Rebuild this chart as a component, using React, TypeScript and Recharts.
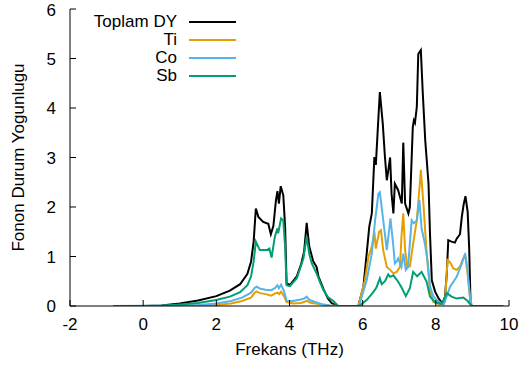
import React from 'react';
import { LineChart, Line, XAxis, YAxis, Legend } from 'recharts';

// ---- data (frequency in THz, phonon DOS) ----
const totalFreq = [-0.82, 0, 0.5, 1.0, 1.5, 2.0, 2.37, 2.65, 2.85, 2.95, 3.02, 3.08, 3.15, 3.28, 3.42, 3.49, 3.56, 3.63, 3.67, 3.71, 3.76, 3.83, 3.88, 3.92, 4.01, 4.2, 4.32, 4.4, 4.47, 4.54, 4.65, 4.74, 4.79, 4.93, 5.05, 5.15, 5.3, 5.88, 6.02, 6.11, 6.18, 6.25, 6.32, 6.36, 6.43, 6.47, 6.55, 6.61, 6.66, 6.7, 6.75, 6.79, 6.84, 6.88, 6.97, 7.07, 7.11, 7.16, 7.25, 7.29, 7.37, 7.4, 7.43, 7.48, 7.52, 7.59, 7.64, 7.71, 7.8, 7.84, 7.89, 7.98, 8.07, 8.16, 8.21, 8.25, 8.3, 8.34, 8.43, 8.52, 8.57, 8.66, 8.71, 8.76, 8.81, 8.87, 8.91, 8.95, 8.98, 9.84];
const totalDY = [0, 0, 0.01, 0.05, 0.11, 0.2, 0.31, 0.44, 0.65, 0.9, 1.3, 1.97, 1.8, 1.7, 1.66, 1.45, 1.62, 2.14, 2.32, 2.07, 2.42, 2.24, 1.6, 0.46, 0.42, 0.6, 0.85, 1.1, 1.68, 1.2, 0.9, 0.79, 0.6, 0.34, 0.15, 0.06, 0, 0, 0.39, 1.06, 1.6, 1.87, 3.01, 2.85, 3.8, 4.32, 3.68, 3.0, 2.54, 2.74, 3.0, 2.27, 1.87, 2.47, 2.34, 2.07, 3.3, 2.07, 1.87, 2.0, 3.61, 3.75, 3.7, 4.02, 5.09, 5.17, 4.35, 3.35, 2.47, 1.47, 0.52, 0.29, 0.16, 0.07, 0.05, 0.19, 0.66, 1.33, 1.3, 1.28, 1.36, 1.45, 1.8, 2.05, 2.22, 1.9, 1.2, 0.05, 0, 0];

const tiFreq = [-0.82, 1.0, 1.5, 2.0, 2.4, 2.7, 2.95, 3.05, 3.1, 3.2, 3.35, 3.5, 3.6, 3.67, 3.72, 3.77, 3.85, 3.92, 4.1, 4.3, 4.4, 4.47, 4.55, 4.7, 4.9, 5.1, 5.3, 5.88, 6.06, 6.16, 6.25, 6.32, 6.36, 6.45, 6.5, 6.56, 6.66, 6.75, 6.84, 6.93, 7.02, 7.06, 7.11, 7.16, 7.22, 7.29, 7.38, 7.48, 7.57, 7.59, 7.66, 7.75, 7.84, 7.93, 8.1, 8.25, 8.32, 8.39, 8.48, 8.57, 8.66, 8.75, 8.8, 8.86, 8.93, 8.98, 9.84];
const tiDY = [0, 0, 0.01, 0.02, 0.05, 0.1, 0.17, 0.27, 0.29, 0.26, 0.24, 0.21, 0.25, 0.27, 0.24, 0.29, 0.2, 0.08, 0.05, 0.06, 0.08, 0.11, 0.07, 0.05, 0.03, 0.01, 0, 0, 0.52, 1.0, 1.2, 1.5, 1.16, 1.5, 1.53, 1.13, 0.79, 0.73, 0.66, 0.69, 0.79, 1.4, 1.87, 1.13, 0.79, 0.8, 1.26, 1.73, 2.54, 2.75, 2.07, 1.06, 0.32, 0.08, 0.03, 0.08, 0.93, 0.88, 0.76, 0.73, 0.8, 0.96, 1.03, 0.7, 0.19, 0, 0];

const coFreq = [-0.82, 1.0, 1.5, 2.0, 2.4, 2.7, 2.95, 3.05, 3.1, 3.2, 3.35, 3.5, 3.6, 3.67, 3.71, 3.77, 3.85, 3.92, 4.1, 4.3, 4.4, 4.47, 4.55, 4.7, 4.9, 5.1, 5.3, 5.9, 6.11, 6.25, 6.34, 6.43, 6.47, 6.54, 6.6, 6.66, 6.76, 6.84, 6.88, 6.93, 6.97, 7.06, 7.11, 7.18, 7.24, 7.34, 7.4, 7.48, 7.55, 7.61, 7.7, 7.77, 7.84, 7.93, 8.02, 8.21, 8.3, 8.39, 8.57, 8.71, 8.8, 8.87, 8.93, 8.98, 9.84];
const coDY = [0, 0.01, 0.02, 0.05, 0.1, 0.17, 0.27, 0.37, 0.39, 0.35, 0.33, 0.32, 0.36, 0.42, 0.36, 0.43, 0.3, 0.1, 0.1, 0.13, 0.15, 0.19, 0.12, 0.08, 0.03, 0.01, 0, 0, 0.52, 1.06, 1.73, 2.27, 2.3, 1.87, 1.5, 1.13, 1.77, 1.2, 0.86, 0.9, 0.96, 0.79, 1.06, 0.73, 0.79, 1.73, 1.67, 1.73, 2.14, 1.57, 1.26, 0.93, 0.39, 0.2, 0.12, 0.03, 0.2, 0.39, 0.59, 0.86, 1.06, 0.73, 0.2, 0, 0];

const sbFreq = [-0.82, 0.5, 1.0, 1.5, 2.0, 2.37, 2.65, 2.85, 2.95, 3.02, 3.08, 3.19, 3.38, 3.45, 3.51, 3.6, 3.67, 3.69, 3.77, 3.83, 3.88, 3.92, 4.01, 4.2, 4.38, 4.47, 4.54, 4.61, 4.74, 4.85, 4.93, 5.05, 5.2, 5.33, 5.9, 6.11, 6.29, 6.38, 6.47, 6.52, 6.61, 6.7, 6.75, 6.84, 6.97, 7.06, 7.18, 7.29, 7.38, 7.49, 7.61, 7.75, 7.84, 7.98, 8.16, 8.3, 8.43, 8.57, 8.75, 8.87, 8.98, 9.84];
const sbDY = [0, 0.005, 0.03, 0.06, 0.12, 0.19, 0.28, 0.42, 0.6, 0.9, 1.3, 1.13, 1.13, 1.16, 0.98, 1.4, 1.57, 1.47, 1.77, 1.73, 1.2, 0.42, 0.4, 0.56, 0.96, 1.4, 1.05, 0.86, 0.66, 0.45, 0.32, 0.18, 0.1, 0, 0, 0.12, 0.28, 0.38, 0.56, 0.44, 0.5, 0.64, 0.59, 0.62, 0.49, 0.38, 0.2, 0.36, 0.69, 0.6, 0.69, 0.49, 0.19, 0.08, 0.04, 0.26, 0.19, 0.15, 0.17, 0.1, 0, 0];

const seriesNames = ['Toplam DY', 'Ti', 'Co', 'Sb'];
const seriesColors = ['#000000', '#E69F00', '#56B4E9', '#009E73'];

const xTicks = [-2, 0, 2, 4, 6, 8, 10];
const yTicks = [0, 1, 2, 3, 4, 5, 6];

const xLabel = 'Frekans (THz)';
const yLabel = 'Fonon Durum Yogunlugu';

const toRows = (f: number[], v: number[]) => f.map((x, i) => ({ f: x, v: v[i] }));

const seriesData = [
  toRows(totalFreq, totalDY),
  toRows(tiFreq, tiDY),
  toRows(coFreq, coDY),
  toRows(sbFreq, sbDY),
];

const FONT = '"Liberation Sans", Arial, Helvetica, sans-serif';
const FS = 17;

const renderLegend = () => (
  <div style={{ position: 'relative', width: 240, height: 90 }}>
    {seriesNames.map((name, i) => {
      const cy = 22.3 + i * 17.9;
      return (
        <React.Fragment key={name}>
          <div
            style={{
              position: 'absolute',
              right: 240 - 177,
              top: cy - 10,
              height: 20,
              lineHeight: '20px',
              fontSize: FS,
              fontFamily: FONT,
              whiteSpace: 'nowrap',
              color: '#000',
            }}
          >
            {name}
          </div>
          <div
            style={{
              position: 'absolute',
              left: 189,
              width: 47,
              top: cy - 1,
              height: 2,
              background: seriesColors[i],
            }}
          />
        </React.Fragment>
      );
    })}
  </div>
);

const renderYLabel = () => (
  <text
    transform="translate(18,157.5) rotate(-90)"
    textAnchor="middle"
    dominantBaseline="central"
    fontSize={FS}
    fontFamily={FONT}
    fill="#000"
  >
    {yLabel}
  </text>
);

export default function App() {
  const tickStyle = { fill: '#000', fontSize: FS, fontFamily: FONT };
  return (
    <div style={{ position: 'absolute', left: 0, top: 0, width: 521, height: 371, background: '#fff' }}>
      <LineChart width={521} height={371} margin={{ top: 9, right: 12, bottom: 0, left: 0 }}>
        <XAxis
          xAxisId="b"
          type="number"
          dataKey="f"
          domain={[-2, 10]}
          ticks={xTicks}
          height={65}
          tickSize={-6}
          tickMargin={18}
          stroke="#000"
          tick={tickStyle}
          allowDataOverflow
          label={{ value: xLabel, position: 'insideBottom', offset: 16, fill: '#000', fontSize: FS, fontFamily: FONT }}
        />
        <XAxis
          xAxisId="t"
          orientation="top"
          type="number"
          dataKey="f"
          domain={[-2, 10]}
          ticks={xTicks}
          height={0}
          tickSize={-6}
          tick={false}
          stroke="#000"
          allowDataOverflow
        />
        <YAxis
          yAxisId="l"
          type="number"
          domain={[0, 6]}
          ticks={yTicks}
          width={70}
          tickSize={-6}
          tickMargin={20}
          stroke="#000"
          tick={tickStyle}
          allowDataOverflow
          label={renderYLabel}
        />
        <YAxis
          yAxisId="r"
          orientation="right"
          type="number"
          domain={[0, 6]}
          ticks={yTicks}
          width={0}
          tickSize={-6}
          tick={false}
          stroke="#000"
          allowDataOverflow
        />
        {seriesData.map((d, i) => (
          <Line
            key={seriesNames[i]}
            data={d}
            dataKey="v"
            name={seriesNames[i]}
            xAxisId="b"
            yAxisId="l"
            type="linear"
            stroke={seriesColors[i]}
            strokeWidth={2}
            dot={false}
            activeDot={false}
            isAnimationActive={false}
          />
        ))}
        <Legend
          layout="vertical"
          align="center"
          verticalAlign="middle"
          content={renderLegend}
          wrapperStyle={{ left: 0, top: 0, width: 240, height: 90 }}
        />
      </LineChart>
    </div>
  );
}
